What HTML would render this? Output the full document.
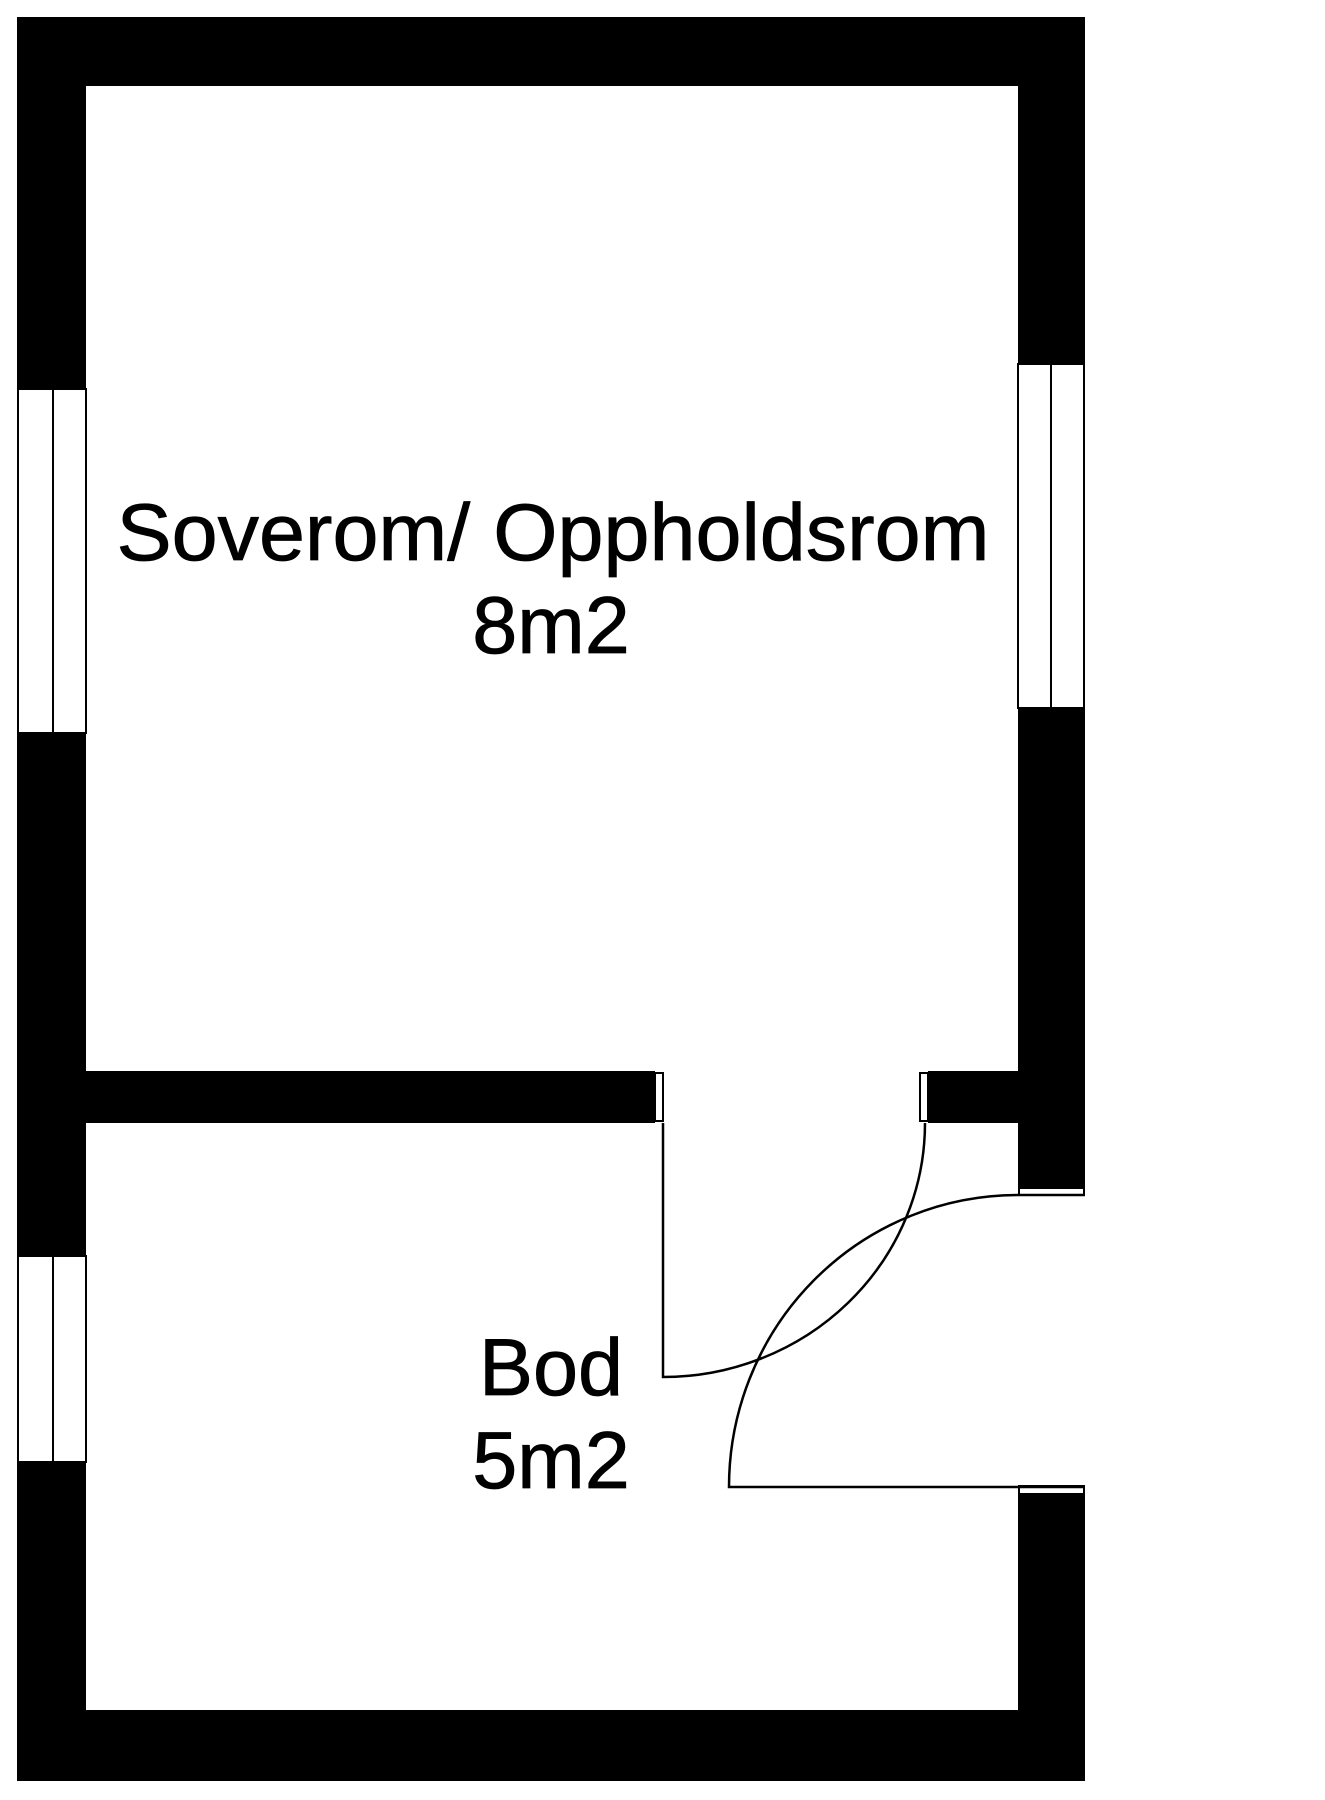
<!DOCTYPE html>
<html><head><meta charset="utf-8"><style>html,body{margin:0;padding:0;background:#fff}svg{display:block}</style></head>
<body>
<svg width="1325" height="1800" viewBox="0 0 1325 1800" xmlns="http://www.w3.org/2000/svg">
<rect width="1325" height="1800" fill="#fff"/>
<g fill="#000">
<rect x="17" y="17" width="1068" height="69"/>
<rect x="17" y="1710" width="1068" height="71"/>
<rect x="17" y="17" width="69" height="1764"/>
<rect x="1018" y="17" width="67" height="1178"/>
<rect x="1018" y="1485" width="67" height="296"/>
<rect x="86" y="1071" width="569" height="52"/>
<rect x="928" y="1071" width="90" height="52"/>
</g>
<g fill="#fff" stroke="#000" stroke-width="2">
<rect x="18" y="389" width="35" height="344"/>
<rect x="53" y="389" width="33" height="344"/>
<rect x="18" y="1256" width="35" height="206"/>
<rect x="53" y="1256" width="33" height="206"/>
<rect x="1018" y="364" width="33" height="344"/>
<rect x="1051" y="364" width="33" height="344"/>
<rect x="655" y="1073" width="8" height="48"/>
<rect x="920" y="1073" width="8" height="48"/>
<rect x="1019" y="1188" width="65" height="7"/>
<rect x="1019" y="1487" width="65" height="7"/>
</g>
<g fill="none" stroke="#000" stroke-width="2.5">
<path d="M663 1123 L663 1377 A262 254 0 0 0 925 1123"/>
<path d="M1085 1487 L729 1487 A289 292 0 0 1 1018 1195 L1085 1195"/>
</g>
<g font-family="Liberation Sans, sans-serif" font-size="81" fill="#000" stroke="#000" stroke-width="0.8" text-anchor="middle">
<text x="553" y="560" textLength="873" lengthAdjust="spacingAndGlyphs">Soverom/ Oppholdsrom</text>
<text x="551" y="653">8m2</text>
<text x="551" y="1395">Bod</text>
<text x="551" y="1488">5m2</text>
</g>
</svg>
</body></html>
